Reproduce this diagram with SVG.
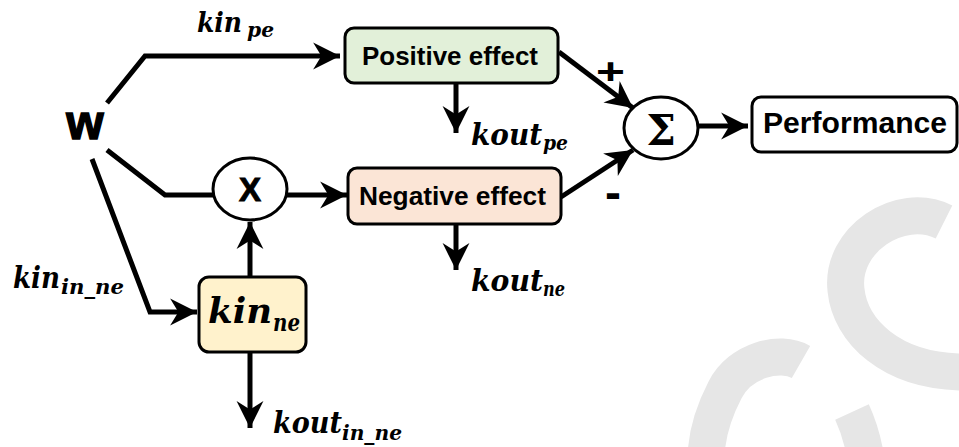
<svg xmlns="http://www.w3.org/2000/svg" width="959" height="447" viewBox="0 0 959 447">
<defs>
<style>
.wm{fill:none;stroke:#e6e6e6;stroke-width:37;stroke-linecap:butt}
.ln{fill:none;stroke:#000;stroke-width:5;stroke-linejoin:miter}
.box{stroke:#000;stroke-width:3}
.lbl{font-family:"Liberation Sans",Arial,sans-serif;font-weight:bold;fill:#000}
.m{font-family:"DejaVu Serif","Liberation Serif",serif;font-weight:bold;font-style:italic;fill:#000}
</style>
<marker id="ah" markerUnits="userSpaceOnUse" markerWidth="30" markerHeight="30" viewBox="-27 -14 29 28" refX="0" refY="0" orient="auto">
<path d="M0,0 L-26,-13 L-18,0 L-26,13 Z" fill="#000"/>
</marker>
</defs>
<rect width="959" height="447" fill="#fff"/>
<g id="watermark">
<path class="wm" d="M944,222 C900,200 840,240 846,290 C850,330 890,372 965,372"/>
<path class="wm" d="M801,362 C780,350 740,360 725,390 C712,415 706,440 706,460"/>
<path class="wm" d="M852,412 C858,425 863,440 866,460"/>
</g>
<g id="connectors">
<polyline class="ln" points="107,103 145,56 340,56" marker-end="url(#ah)"/>
<polyline class="ln" points="107,150 165,195 213,195"/>
<polyline class="ln" points="92,159 150,312 197,312" marker-end="url(#ah)"/>
<line class="ln" x1="250" y1="277" x2="250" y2="222" marker-end="url(#ah)"/>
<line class="ln" x1="250" y1="352" x2="250" y2="428" marker-end="url(#ah)"/>
<line class="ln" x1="287" y1="195" x2="347" y2="195" marker-end="url(#ah)"/>
<line class="ln" x1="456" y1="83" x2="456" y2="133" marker-end="url(#ah)"/>
<line class="ln" x1="456" y1="224" x2="456" y2="270" marker-end="url(#ah)"/>
<line class="ln" x1="559" y1="52" x2="633" y2="108" marker-end="url(#ah)"/>
<line class="ln" x1="561" y1="197" x2="633" y2="150" marker-end="url(#ah)"/>
<line class="ln" x1="699" y1="126" x2="748" y2="126" marker-end="url(#ah)"/>
</g>
<g id="w">
<text class="lbl" x="85" y="139" font-size="48" text-anchor="middle" stroke="#000" stroke-width="1.5">w</text>
</g>
<g id="kin_pe">
<text class="m" x="197" y="32" font-size="28" textLength="45" lengthAdjust="spacingAndGlyphs">kin</text>
<text class="m" x="247" y="37" font-size="20" textLength="27" lengthAdjust="spacingAndGlyphs">pe</text>
</g>
<g id="positive">
<rect class="box" x="345" y="28" width="213" height="55" rx="9" fill="#e2f0d9"/>
<text class="lbl" x="362" y="65" font-size="25" textLength="176" lengthAdjust="spacingAndGlyphs">Positive effect</text>
</g>
<g id="kout_pe">
<text class="m" x="471" y="145" font-size="29" textLength="71" lengthAdjust="spacingAndGlyphs">kout</text>
<text class="m" x="543" y="150" font-size="20" textLength="25" lengthAdjust="spacingAndGlyphs">pe</text>
</g>
<g id="mult">
<ellipse class="box" cx="250" cy="189" rx="37" ry="31" fill="#fff"/>
<text class="lbl" x="250" y="201" font-size="33" text-anchor="middle" stroke="#000" stroke-width="1">X</text>
</g>
<g id="negative">
<rect class="box" x="348" y="168" width="213" height="56" rx="9" fill="#fbe5d6"/>
<text class="lbl" x="359" y="205" font-size="25" textLength="187" lengthAdjust="spacingAndGlyphs">Negative effect</text>
</g>
<g id="kout_ne">
<text class="m" x="471" y="291" font-size="29" textLength="72" lengthAdjust="spacingAndGlyphs">kout</text>
<text class="m" x="543" y="296" font-size="20" textLength="22" lengthAdjust="spacingAndGlyphs">ne</text>
</g>
<g id="sum">
<ellipse class="box" cx="661" cy="128" rx="37" ry="31" fill="#fff"/>
<text x="661" y="145" font-size="42" text-anchor="middle" font-weight="bold" font-family="'DejaVu Serif','Liberation Serif',serif">Σ</text>
</g>
<g id="signs">
<text class="lbl" x="596" y="84" font-size="36" textLength="29" lengthAdjust="spacingAndGlyphs">+</text>
<text class="lbl" x="605" y="209" font-size="48">-</text>
</g>
<g id="performance">
<rect class="box" x="752" y="97" width="205" height="55" rx="9" fill="#fff"/>
<text class="lbl" x="763" y="133" font-size="29" textLength="184" lengthAdjust="spacingAndGlyphs">Performance</text>
</g>
<g id="kin_in_ne">
<text class="m" x="13" y="288" font-size="29" textLength="47" lengthAdjust="spacingAndGlyphs">kin</text>
<text class="m" x="61" y="294" font-size="20" textLength="63" lengthAdjust="spacingAndGlyphs">in_ne</text>
</g>
<g id="kin_ne">
<rect class="box" x="199" y="277" width="107" height="75" rx="10" fill="#fff2cc"/>
<text class="m" x="208" y="323" font-size="36" textLength="64" lengthAdjust="spacingAndGlyphs">kin</text>
<text class="m" x="273" y="331" font-size="25" textLength="27" lengthAdjust="spacingAndGlyphs">ne</text>
</g>
<g id="kout_in_ne">
<text class="m" x="273" y="433" font-size="29" textLength="69" lengthAdjust="spacingAndGlyphs">kout</text>
<text class="m" x="342" y="440" font-size="20" textLength="60" lengthAdjust="spacingAndGlyphs">in_ne</text>
</g>
</svg>
